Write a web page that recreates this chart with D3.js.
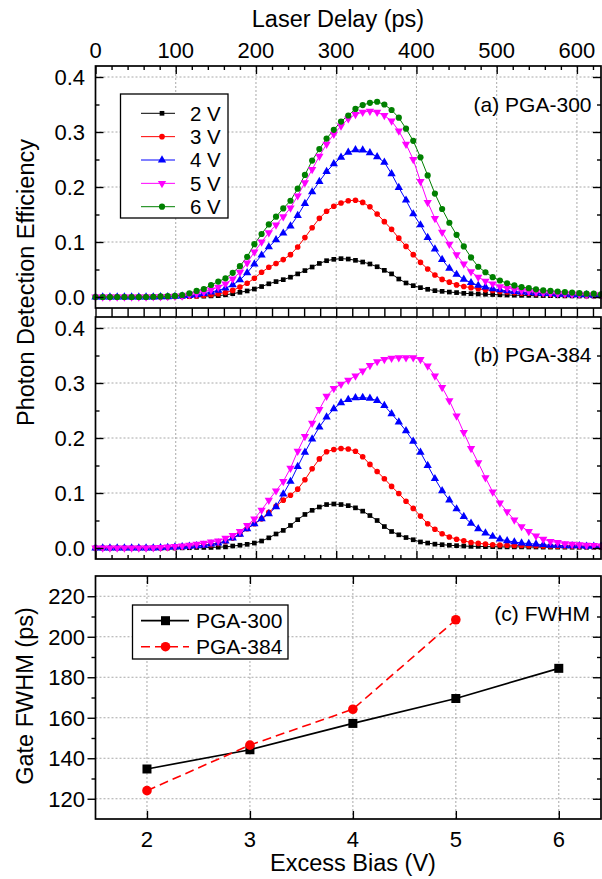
<!DOCTYPE html>
<html>
<head>
<meta charset="utf-8">
<script src="https://cdn.jsdelivr.net/npm/d3@7"></script>
<style>
  body { margin: 0; background: #fff; }
  svg { display: block; }
  text { font-family: "Liberation Sans", Arial, Helvetica, sans-serif; fill: #000; }
</style>
</head>
<body>
<svg id="chart" width="602" height="879"></svg>
<script>
// ---- Laser delay sampling (ps) ----
const delays = [0,9,18,27,36,45,54,63,72,81,90,99,108,117,126,135,144,153,162,171,180,189,198,207,216,225,234,243,252,261,270,279,288,297,306,315,324,333,342,351,360,369,378,387,396,405,414,423,432,441,450,459,468,477,486,495,504,513,522,531,540,549,558,567,576,585,594,603,612,621,630];

// ---- (a) PGA-300 photon detection efficiency ----
const pga300_2V = [0,0,0,0,0,0,0,0,0,0.0005,0.0005,0.001,0.001,0.001,0.0015,0.0015,0.002,
  0.0024,0.004,0.006,0.0085,0.011,0.0145,0.019,0.024,0.028,0.0315,
  0.036,0.042,0.048,0.0545,0.061,0.066,0.0685,0.0697,0.069,0.0667,
  0.0636,0.060,0.055,0.0485,0.042,0.0327,0.0255,0.0206,0.017,0.014,
  0.0115,0.0103,0.009,0.008,0.0067,0.006,0.0055,0.005,0.0045,0.004,
  0.0036,0.0033,0.003,0.003,0.0028,0.0026,0.0024,0.0022,0.002,0.002,
  0.0018,0.0017,0.0016,0.0015];
const pga300_3V = [0,0,0,0,0,0,0,0,0,0,0.0005,0.0008,0.001,0.0015,0.002,0.003,0.004,
  0.006,0.008,0.012,0.018,0.025,0.034,0.045,0.054,0.061,0.068,
  0.077,0.091,0.108,0.126,0.143,0.156,0.165,0.171,0.175,0.176,
  0.172,0.164,0.151,0.137,0.123,0.107,0.092,0.077,0.063,0.051,
  0.040,0.032,0.027,0.022,0.019,0.017,0.015,0.013,0.012,0.010,
  0.009,0.008,0.007,0.007,0.006,0.006,0.005,0.005,0.004,0.004,
  0.004,0.003,0.003,0.003];
const pga300_4V = [0,0,0,0,0,0,0,0,0,0.0005,0.0005,0.001,0.0015,0.0025,0.004,0.006,0.009,
  0.012,0.016,0.022,0.031,0.044,0.060,0.076,0.091,0.104,0.116,
  0.129,0.148,0.170,0.191,0.210,0.228,0.242,0.254,0.263,0.2675,
  0.267,0.262,0.255,0.245,0.224,0.199,0.176,0.151,0.131,0.108,
  0.087,0.068,0.052,0.041,0.032,0.026,0.021,0.018,0.015,0.013,
  0.011,0.010,0.009,0.008,0.007,0.006,0.006,0.005,0.005,0.004,
  0.004,0.004,0.003,0.003];
const pga300_5V = [0,0,0,0,0,0,0,0,0.0005,0.0005,0.001,0.0015,0.002,0.004,0.006,0.009,0.013,
  0.018,0.024,0.033,0.045,0.062,0.082,0.100,0.117,0.131,0.146,
  0.162,0.184,0.208,0.232,0.256,0.278,0.296,0.311,0.324,0.332,
  0.336,0.338,0.336,0.330,0.320,0.302,0.278,0.250,0.210,0.172,
  0.143,0.118,0.096,0.077,0.060,0.046,0.036,0.029,0.024,0.019,
  0.016,0.014,0.012,0.010,0.009,0.008,0.007,0.006,0.006,0.005,
  0.005,0.004,0.004,0.004];
const pga300_6V = [0,0,0,0,0,0,0,0,0.0005,0.001,0.0015,0.002,0.0036,0.0067,0.011,0.0145,0.0218,
  0.028,0.034,0.044,0.056,0.073,0.096,0.1145,0.132,0.146,0.161,
  0.175,0.197,0.222,0.248,0.269,0.288,0.304,0.319,0.330,0.342,
  0.349,0.353,0.355,0.350,0.340,0.326,0.306,0.284,0.254,0.221,
  0.188,0.160,0.135,0.113,0.092,0.072,0.055,0.045,0.036,0.030,
  0.025,0.021,0.018,0.016,0.014,0.012,0.011,0.010,0.009,0.008,
  0.007,0.006,0.006,0.005];

// ---- (b) PGA-384 photon detection efficiency ----
const pga384_2V = [0,0,0,0,0,0,0,0,0,0,0,0,0.0003,0.0005,0.001,0.001,0.001,
  0.0015,0.002,0.0036,0.005,0.0067,0.009,0.0127,0.0185,0.0255,0.032,
  0.041,0.0515,0.061,0.0685,0.0745,0.079,0.080,0.079,0.077,0.073,
  0.067,0.059,0.050,0.039,0.030,0.024,0.019,0.015,0.011,0.009,
  0.007,0.006,0.005,0.0042,0.0036,0.003,0.003,0.0025,0.0025,0.002,
  0.002,0.002,0.002,0.0018,0.0018,0.0016,0.0016,0.0015,0.0015,0.0014,
  0.0014,0.0013,0.0013,0.0012];
const pga384_3V = [0,0,0,0,0,0,0,0,0,0,0.0005,0.001,0.002,0.003,0.004,0.005,0.006,
  0.008,0.012,0.018,0.025,0.035,0.044,0.053,0.065,0.076,0.087,
  0.096,0.107,0.124,0.144,0.162,0.175,0.179,0.181,0.180,0.176,
  0.166,0.152,0.139,0.126,0.112,0.099,0.085,0.072,0.058,0.044,
  0.034,0.026,0.020,0.016,0.013,0.010,0.0085,0.0073,0.006,0.0055,
  0.005,0.0047,0.0045,0.0042,0.004,0.0038,0.0036,0.0034,0.0032,0.003,
  0.003,0.003,0.0028,0.0027];
const pga384_4V = [0,0,0,0,0,0,0,0,0,0.0005,0.001,0.0015,0.002,0.003,0.004,0.005,0.007,
  0.009,0.0127,0.018,0.025,0.035,0.044,0.053,0.062,0.075,0.098,
  0.121,0.148,0.174,0.198,0.220,0.238,0.253,0.264,0.270,0.273,
  0.2735,0.272,0.268,0.259,0.244,0.229,0.213,0.194,0.174,0.150,
  0.126,0.104,0.087,0.071,0.057,0.045,0.035,0.027,0.021,0.016,
  0.013,0.011,0.009,0.008,0.007,0.006,0.005,0.005,0.004,0.004,
  0.004,0.003,0.003,0.003];
const pga384_5V = [0,0,0,0,0,0,0,0,0.0005,0.001,0.002,0.003,0.004,0.005,0.007,0.009,0.011,
  0.013,0.018,0.023,0.030,0.041,0.053,0.069,0.087,0.104,0.121,
  0.145,0.176,0.203,0.227,0.252,0.276,0.290,0.298,0.305,0.313,
  0.322,0.332,0.339,0.343,0.345,0.346,0.346,0.346,0.343,0.331,
  0.313,0.292,0.268,0.240,0.210,0.181,0.155,0.128,0.102,0.082,
  0.066,0.051,0.039,0.030,0.022,0.016,0.012,0.010,0.008,0.007,
  0.006,0.005,0.0045,0.004];

// ---- (c) gate FWHM vs excess bias ----
const biasPGA300 = [2, 3, 4, 5, 6];
const fwhmPGA300 = [134.7, 144.2, 157.2, 169.5, 184.4];
const biasPGA384 = [2, 3, 4, 5];
const fwhmPGA384 = [124.0, 146.5, 164.2, 208.4];

// ---- tick values ----
const delayTicks = [0, 100, 200, 300, 400, 500, 600];
const pdeTicks = [0.0, 0.1, 0.2, 0.3, 0.4];
const biasTicks = [2, 3, 4, 5, 6];
const fwhmTicks = [120, 140, 160, 180, 200, 220];

const legendLabels = ["2 V", "3 V", "4 V", "5 V", "6 V"];
const seriesColors = ["#000000", "#ff0000", "#0000ff", "#ff00ff", "#008000"];
const seriesSymbols = [d3.symbolSquare, d3.symbolCircle, d3.symbolTriangle, d3.symbolTriangle, d3.symbolCircle];
const symbolSizes = [22, 25, 30, 30, 30];
const symbolRotate = [0, 0, 0, 180, 0];

// ---- layout ----
const svg = d3.select("#chart");
const L = 95.5, R = 601;
const FONT_TICK = 22, FONT_TITLE = 23.5;
const gridColor = "#a8a8a8";

const xDelay = d3.scaleLinear().domain([0, 630]).range([L, R]);
const yA = d3.scaleLinear().domain([-0.02, 0.42]).range([308, 66]);
const yB = d3.scaleLinear().domain([-0.02, 0.42]).range([559, 317]);
const xBias = d3.scaleLinear().domain([1.5, 6.41]).range([L, R]);
const yFwhm = d3.scaleLinear().domain([110, 230]).range([819, 576]);

function tickAxis(g, axisGen, transform) {
  const a = g.append("g").attr("transform", transform).call(axisGen);
  a.select(".domain").remove();
  a.selectAll("line").attr("stroke", "#000").attr("stroke-width", 1.4);
  a.selectAll("text").remove();
  return a;
}

function grid(g, xs, ys, xScale, yScale) {
  const [y0, y1] = yScale.range();
  const [x0, x1] = xScale.range();
  g.append("g").selectAll("line.v").data(xs).join("line")
    .attr("x1", d => xScale(d)).attr("x2", d => xScale(d))
    .attr("y1", y0).attr("y2", y1)
    .attr("stroke", gridColor).attr("stroke-width", 1).attr("stroke-dasharray", "2,2");
  g.append("g").selectAll("line.h").data(ys).join("line")
    .attr("x1", x0).attr("x2", x1)
    .attr("y1", d => yScale(d)).attr("y2", d => yScale(d))
    .attr("stroke", gridColor).attr("stroke-width", 1).attr("stroke-dasharray", "2,2");
}

function frame(g, xScale, yScale) {
  const [y0, y1] = yScale.range();
  const [x0, x1] = xScale.range();
  g.append("rect").attr("x", x0).attr("y", y1).attr("width", x1 - x0).attr("height", y0 - y1)
    .attr("fill", "none").attr("stroke", "#000").attr("stroke-width", 1.7);
}

function yTickLabels(g, ticks, yScale, fmt) {
  g.append("g").selectAll("text").data(ticks).join("text")
    .attr("x", 85).attr("y", d => yScale(d) + 8)
    .attr("text-anchor", "end").attr("font-size", FONT_TICK)
    .text(fmt);
}

function curves(g, seriesList, yScale) {
  const line = d3.line().x((d, i) => xDelay(delays[i])).y(d => yScale(d));
  seriesList.forEach((vals, k) => {
    g.append("path").datum(vals).attr("d", line)
      .attr("fill", "none").attr("stroke", seriesColors[k]).attr("stroke-width", 1);
  });
  seriesList.forEach((vals, k) => {
    const sym = d3.symbol().type(seriesSymbols[k]).size(symbolSizes[k]);
    g.append("g").selectAll("path").data(vals).join("path")
      .attr("d", sym)
      .attr("transform", (d, i) => `translate(${xDelay(delays[i])},${yScale(d)}) rotate(${symbolRotate[k]})`)
      .attr("fill", seriesColors[k]);
  });
}

function delayPanelTicks(g, yScale, withTop, withBottom) {
  const [y0, y1] = yScale.range();
  const minorX = d3.range(0, 631, 20).filter(v => v % 100 !== 0);
  const minorY = [0.05, 0.15, 0.25, 0.35];
  if (withTop) {
    tickAxis(g, d3.axisTop(xDelay).tickValues(delayTicks).tickSize(-8), `translate(0,${y1})`);
    tickAxis(g, d3.axisTop(xDelay).tickValues(minorX).tickSize(-4), `translate(0,${y1})`);
  }
  if (withBottom) {
    tickAxis(g, d3.axisBottom(xDelay).tickValues(delayTicks).tickSize(-8), `translate(0,${y0})`);
    tickAxis(g, d3.axisBottom(xDelay).tickValues(minorX).tickSize(-4), `translate(0,${y0})`);
  }
  tickAxis(g, d3.axisLeft(yScale).tickValues(pdeTicks).tickSize(-8), `translate(${L},0)`);
  tickAxis(g, d3.axisLeft(yScale).tickValues(minorY).tickSize(-4), `translate(${L},0)`);
  tickAxis(g, d3.axisRight(yScale).tickValues(pdeTicks).tickSize(-8), `translate(${R},0)`);
  tickAxis(g, d3.axisRight(yScale).tickValues(minorY).tickSize(-4), `translate(${R},0)`);
}

// ================= panel (a) =================
const gA = svg.append("g");
grid(gA, [100, 200, 300, 400, 500, 600], pdeTicks, xDelay, yA);
curves(gA, [pga300_2V, pga300_3V, pga300_4V, pga300_5V, pga300_6V], yA);
delayPanelTicks(gA, yA, true, false);
frame(gA, xDelay, yA);
yTickLabels(gA, pdeTicks, yA, d3.format(".1f"));

// top delay axis labels and title
gA.append("g").selectAll("text").data(delayTicks).join("text")
  .attr("x", d => xDelay(d)).attr("y", 57.5)
  .attr("text-anchor", "middle").attr("font-size", FONT_TICK).text(d => d);
gA.append("text").attr("x", 338).attr("y", 27).attr("text-anchor", "middle")
  .attr("font-size", FONT_TITLE).text("Laser Delay (ps)");

gA.append("text").attr("x", 591.5).attr("y", 112).attr("text-anchor", "end")
  .attr("font-size", 21).text("(a) PGA-300");

// legend (a)
const legA = gA.append("g");
legA.append("rect").attr("x", 120.5).attr("y", 94).attr("width", 107.5).attr("height", 124)
  .attr("fill", "#fff").attr("stroke", "#000").attr("stroke-width", 1.3);
legendLabels.forEach((lab, k) => {
  const y = 113.3 + 23.35 * k;
  legA.append("line").attr("x1", 141).attr("x2", 175).attr("y1", y).attr("y2", y)
    .attr("stroke", seriesColors[k]).attr("stroke-width", 1);
  legA.append("path").attr("d", d3.symbol().type(seriesSymbols[k]).size(symbolSizes[k]))
    .attr("transform", `translate(162,${y}) rotate(${symbolRotate[k]})`).attr("fill", seriesColors[k]);
  legA.append("text").attr("x", 190).attr("y", y + 7.3).attr("font-size", 20.5).text(lab);
});

// ================= panel (b) =================
const gB = svg.append("g");
grid(gB, [100, 200, 300, 400, 500, 600], pdeTicks, xDelay, yB);
curves(gB, [pga384_2V, pga384_3V, pga384_4V, pga384_5V], yB);
delayPanelTicks(gB, yB, false, true);
frame(gB, xDelay, yB);
yTickLabels(gB, pdeTicks, yB, d3.format(".1f"));
gB.append("text").attr("x", 591.5).attr("y", 361.5).attr("text-anchor", "end")
  .attr("font-size", 21).text("(b) PGA-384");

// shared tick band joining panels (a) and (b)
tickAxis(svg, d3.axisBottom(xDelay).tickValues(d3.range(0, 631, 20)).tickSize(9), `translate(0,${yA.range()[0]})`);

// shared efficiency title
svg.append("text")
  .attr("transform", "translate(34,282.5) rotate(-90)")
  .attr("text-anchor", "middle").attr("font-size", FONT_TITLE)
  .text("Photon Detection Efficiency");

// ================= panel (c) =================
const gC = svg.append("g");
grid(gC, biasTicks, fwhmTicks, xBias, yFwhm);

const fwhmMinor = [130, 150, 170, 190, 210];
tickAxis(gC, d3.axisTop(xBias).tickValues(biasTicks).tickSize(-8), `translate(0,576)`);
tickAxis(gC, d3.axisBottom(xBias).tickValues(biasTicks).tickSize(-8), `translate(0,819)`);
tickAxis(gC, d3.axisLeft(yFwhm).tickValues(fwhmTicks).tickSize(8), `translate(${L},0)`);
tickAxis(gC, d3.axisLeft(yFwhm).tickValues(fwhmMinor).tickSize(4), `translate(${L},0)`);
tickAxis(gC, d3.axisRight(yFwhm).tickValues(fwhmTicks).tickSize(-8), `translate(${R},0)`);
tickAxis(gC, d3.axisRight(yFwhm).tickValues(fwhmMinor).tickSize(-4), `translate(${R},0)`);

const lineC = d3.line();
gC.append("path")
  .attr("d", lineC(biasPGA300.map((b, i) => [xBias(b), yFwhm(fwhmPGA300[i])])))
  .attr("fill", "none").attr("stroke", "#000").attr("stroke-width", 1.7);
gC.append("path")
  .attr("d", lineC(biasPGA384.map((b, i) => [xBias(b), yFwhm(fwhmPGA384[i])])))
  .attr("fill", "none").attr("stroke", "#ff0000").attr("stroke-width", 1.6)
  .attr("stroke-dasharray", "9,5");
gC.append("g").selectAll("rect").data(fwhmPGA300).join("rect")
  .attr("x", (d, i) => xBias(biasPGA300[i]) - 4.5).attr("y", d => yFwhm(d) - 4.5)
  .attr("width", 9).attr("height", 9).attr("fill", "#000");
gC.append("g").selectAll("circle").data(fwhmPGA384).join("circle")
  .attr("cx", (d, i) => xBias(biasPGA384[i])).attr("cy", d => yFwhm(d))
  .attr("r", 4.8).attr("fill", "#ff0000");

frame(gC, xBias, yFwhm);
yTickLabels(gC, fwhmTicks, yFwhm, d => d);
gC.append("g").selectAll("text").data(biasTicks).join("text")
  .attr("x", d => xBias(d)).attr("y", 846.5)
  .attr("text-anchor", "middle").attr("font-size", FONT_TICK).text(d => d);
gC.append("text").attr("x", 353).attr("y", 871).attr("text-anchor", "middle")
  .attr("font-size", FONT_TITLE).text("Excess Bias (V)");
gC.append("text")
  .attr("transform", "translate(33,696) rotate(-90)")
  .attr("text-anchor", "middle").attr("font-size", FONT_TITLE)
  .text("Gate FWHM (ps)");
gC.append("text").attr("x", 590).attr("y", 621).attr("text-anchor", "end")
  .attr("font-size", 21).text("(c) FWHM");

// legend (c)
const legC = gC.append("g");
legC.append("rect").attr("x", 132.5).attr("y", 605).attr("width", 155.5).attr("height", 54)
  .attr("fill", "#fff").attr("stroke", "#000").attr("stroke-width", 1.3);
legC.append("line").attr("x1", 141).attr("x2", 189).attr("y1", 620.7).attr("y2", 620.7)
  .attr("stroke", "#000").attr("stroke-width", 1.7);
legC.append("rect").attr("x", 161).attr("y", 616.2).attr("width", 9).attr("height", 9).attr("fill", "#000");
legC.append("text").attr("x", 196).attr("y", 628.3).attr("font-size", 21).text("PGA-300");
legC.append("line").attr("x1", 141).attr("x2", 189).attr("y1", 646.7).attr("y2", 646.7)
  .attr("stroke", "#ff0000").attr("stroke-width", 1.6).attr("stroke-dasharray", "9,5");
legC.append("circle").attr("cx", 165.5).attr("cy", 646.7).attr("r", 4.8).attr("fill", "#ff0000");
legC.append("text").attr("x", 196).attr("y", 654.3).attr("font-size", 21).text("PGA-384");
</script>
</body>
</html>
